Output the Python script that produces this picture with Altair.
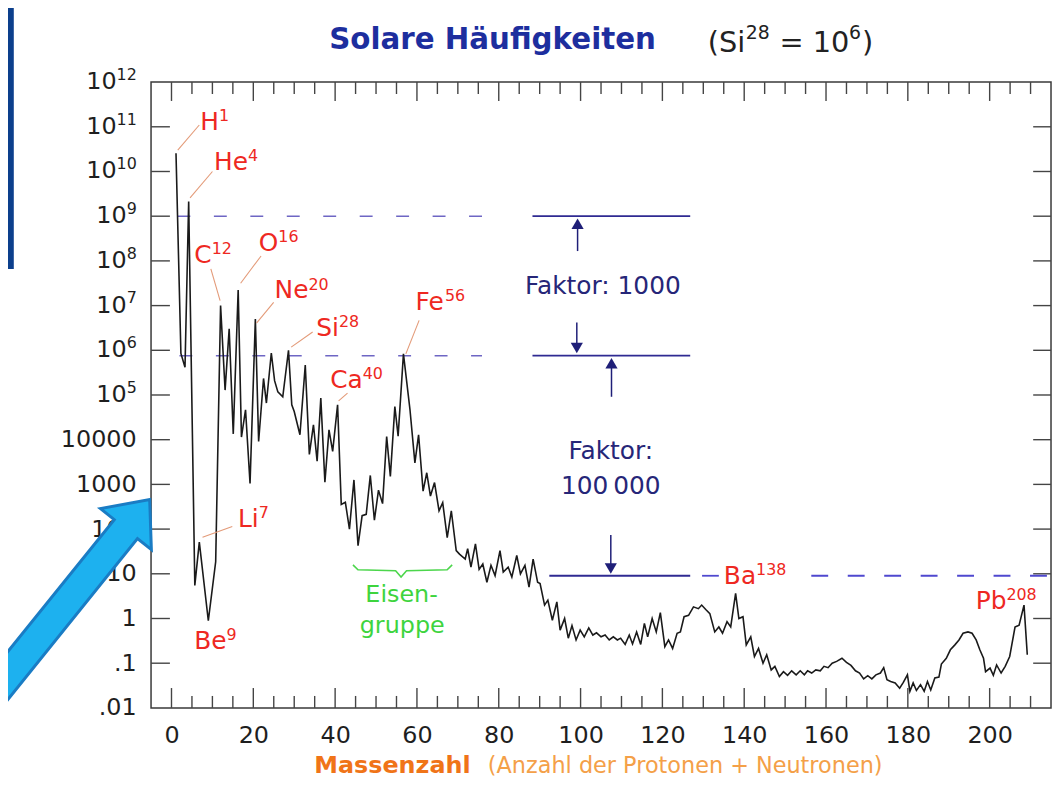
import altair as alt
import pandas as pd

# ---------------- curve: mass number / log10(abundance), Si28 = 10^6 ----------------
mass = [1.1, 2.3, 3.3, 4.2, 5.7, 6.8, 9.0, 10.8, 12.0, 13.1,
        14.1, 15.1, 16.3, 17.1, 18.1, 19.2, 20.5, 21.3, 22.5, 23.2,
        24.4, 25.2, 26.0, 27.2, 28.6, 29.4, 30.0, 31.4, 32.7, 33.7,
        34.7, 35.6, 36.5, 37.5, 38.5, 39.4, 40.6, 41.5, 42.5, 43.5,
        44.6, 45.6, 46.6, 47.6, 48.6, 49.6, 50.6, 51.6, 52.6, 53.5,
        54.6, 55.4, 56.7, 58.3, 59.5, 60.4, 61.5, 62.4, 63.3, 64.3,
        65.4, 66.3, 67.4, 68.4, 69.6, 70.4, 71.8, 72.4, 73.2, 74.3,
        75.2, 76.1, 77.1, 78.1, 79.1, 80.3, 81.1, 82.3, 83.2, 84.4,
        85.3, 86.4, 87.4, 88.4, 89.5, 90.1, 91.2, 92.0, 93.1, 94.2,
        95.0, 96.1, 97.0, 97.9, 98.9, 99.9, 100.9, 102.0, 103.0, 103.9,
        105.0, 106.0, 107.0, 108.0, 109.0, 109.8, 110.9, 111.9, 112.7, 113.7,
        114.7, 115.6, 116.4, 117.5, 118.5, 119.5, 120.6, 121.5, 122.5, 123.6,
        124.4, 125.3, 126.4, 127.6, 128.8, 129.6, 130.6, 131.6, 132.8, 133.8,
        134.7, 135.8, 136.7, 137.9, 138.7, 139.7, 140.5, 141.6, 142.5, 143.5,
        144.6, 145.5, 146.6, 147.5, 148.6, 149.6, 150.6, 151.6, 152.7, 153.7,
        154.7, 155.5, 156.5, 157.5, 158.6, 159.5, 160.5, 161.5, 162.6, 163.9,
        165.0, 166.1, 167.2, 168.2, 169.2, 170.2, 171.2, 172.2, 173.3, 174.1,
        174.9, 175.8, 176.9, 178.0, 178.9, 179.9, 180.5, 181.3, 182.1, 183.1,
        184.0, 184.8, 185.6, 186.6, 187.6, 188.2, 189.4, 190.4, 191.5, 192.5,
        193.5, 194.7, 195.7, 196.7, 197.6, 198.5, 199.0, 200.1, 200.9, 201.7,
        202.8, 203.8, 204.9, 206.2, 207.2, 208.4, 209.2]
log_abund = [10.41, 5.93, 5.62, 9.33, 0.74, 1.71, -0.05, 1.27, 7.0, 5.11,
             6.48, 4.13, 7.35, 4.06, 4.67, 3.02, 6.70, 3.96, 5.37, 4.82,
             5.94, 5.32, 5.07, 4.96, 6.0, 4.78, 4.63, 4.11, 5.67, 3.67,
             4.33, 3.52, 4.93, 3.05, 4.22, 3.74, 4.78, 2.55, 2.6, 2.0,
             3.1, 1.63, 2.3, 2.33, 3.2, 2.2, 2.87, 2.57, 4.07, 3.18,
             4.74, 4.08, 5.92, 4.67, 3.48, 4.11, 2.85, 3.26, 2.74, 3.04,
             2.41, 2.59, 1.81, 2.41, 1.52, 1.44, 1.33, 1.56, 1.15, 1.67,
             1.10, 1.22, 0.81, 1.19, 0.96, 1.52, 1.04, 1.15, 0.93, 1.41,
             1.0, 1.19, 0.70, 1.33, 0.81, 0.78, 0.30, 0.41, -0.04, 0.37,
             -0.26, 0.0, -0.44, -0.16, -0.48, -0.26, -0.41, -0.21, -0.37, -0.32,
             -0.41, -0.37, -0.48, -0.41, -0.48, -0.44, -0.58, -0.37, -0.57, -0.30,
             -0.58, -0.11, -0.41, 0.0, -0.30, 0.13, -0.63, -0.48, -0.67, -0.33,
             -0.30, 0.04, 0.07, 0.26, 0.22, 0.30, 0.2, 0.11, -0.30, -0.19,
             -0.33, -0.07, -0.19, 0.56, 0.0, 0.04, -0.59, -0.41, -0.85, -0.67,
             -1.0, -0.81, -1.15, -1.07, -1.30, -1.19, -1.27, -1.17, -1.26, -1.17,
             -1.26, -1.17, -1.22, -1.15, -1.17, -1.07, -1.1, -1.0, -0.96, -0.89,
             -0.98, -1.05, -1.17, -1.22, -1.35, -1.28, -1.35, -1.26, -1.22, -1.1,
             -1.37, -1.41, -1.44, -1.56, -1.43, -1.26, -1.63, -1.44, -1.61, -1.48,
             -1.63, -1.41, -1.6, -1.33, -1.31, -1.02, -0.89, -0.70, -0.59, -0.48,
             -0.33, -0.30, -0.33, -0.48, -0.70, -0.89, -1.19, -1.11, -1.27, -1.04,
             -1.22, -1.07, -0.85, -0.19, -0.15, 0.30, -0.81]

# ---------------- axes ----------------
x_tick_values = [0, 20, 40, 60, 80, 100, 120, 140, 160, 180, 200]
y_plain_labels = [".01", ".1", "1", "10", "100", "1000", "10000"]
y_plain_exponents = [-2, -1, 0, 1, 2, 3, 4]
# power labels "10^n" drawn as base + superscript
y_pow_exponents = [5, 6, 7, 8, 9, 10, 11, 12]
y_pow_sup = ["5", "6", "7", "8", "9", "10", "11", "12"]
y_pow_base_a = [-10.96, -10.96, -10.96, -10.96, -10.96, -13.43, -13.43, -13.43]
y_pow_sup_a = -8.48

# ---------------- element labels (data units: mass, log10) ----------------
elem_base = ["H", "He", "C", "O", "Ne", "Si", "Ca", "Fe", "Li", "Be", "Ba", "Pb"]
elem_sup = ["1", "4", "12", "16", "20", "28", "40", "56", "7", "9", "138", "208"]
elem_a = [7.03, 10.42, 5.58, 21.33, 25.21, 35.39, 38.79, 59.64, 16.24, 5.58, 135.03, 196.6]
elem_l = [10.93, 10.04, 7.96, 8.22, 7.16, 6.33, 5.16, 6.91, 2.04, -0.69, 0.78, 0.22]
elem_sup_a = [11.59, 18.72, 9.82, 26.11, 33.48, 40.92, 46.74, 66.86, 21.31, 13.45, 142.91, 204.1]
elem_sup_l = [11.13, 10.24, 8.16, 8.42, 7.36, 6.53, 5.36, 7.11, 2.24, -0.49, 0.98, 0.42]

lead_a1 = [1.53, 4.53, 9.62, 16.90, 20.78, 29.26, 40.85, 57.29, 7.59]
lead_l1 = [10.48, 9.41, 7.82, 7.50, 6.61, 6.07, 4.87, 5.92, 1.82]
lead_a2 = [6.79, 10.01, 11.88, 21.89, 24.97, 34.50, 43.03, 60.53, 14.86]
lead_l2 = [11.04, 10.00, 7.11, 8.11, 7.07, 6.41, 5.04, 6.67, 2.06]

# reference levels
solid_a1 = [88.24, 88.24, 92.36]
solid_a2 = [126.8, 126.8, 126.8]
solid_l = [9.0, 5.88, 0.956]
dash_top_a1 = [1.45, 1.94]
dash_top_a2 = [75.9, 75.9]
dash_top_l = [9.0, 5.88]
dash_bot_a1 = [129.7, 156.4]
dash_bot_a2 = [133.8, 215.0]
dash_bot_l = [0.956, 0.956]

# "Faktor" arrows
arrow_a = [99.27, 99.08, 107.56, 107.39]
arrow_tail_l = [8.22, 6.62, 4.96, 1.87]
arrow_head_l = [8.83, 6.05, 5.71, 1.12]
arrow_dir = ["triangle-up", "triangle-down", "triangle-up", "triangle-down"]
faktor_text = ["Faktor: 1000", "Faktor:", "100\u2009000"]
faktor_a = [105.45, 107.39, 107.39]
faktor_l = [7.27, 3.56, 2.78]

# Eisengruppe
eisen_text = ["Eisen-", "gruppe"]
eisen_a = [56.24, 56.4]
eisen_l = [0.37, -0.33]
brace_a = [44.36, 45.58, 54.79, 56.12, 57.45, 67.39, 68.61]
brace_l = [1.20, 1.09, 1.07, 0.93, 1.07, 1.09, 1.20]

# header
title_a, title_l = 38.55, 12.73
paren_text = ["(Si", "28", "= 10", "6", ")"]
paren_a = [131.1, 140.4, 148.6, 165.6, 168.8]
paren_l = [12.67, 12.96, 12.67, 12.96, 12.67]
paren_fs = [29, 19, 29, 19, 29]

# x title
xt_a = [34.91, 77.33]
xt_l = [-3.46, -3.46]

# slide overlay arrow (polygon)
ovl_a = [-46.96, -13.99, -17.38, -5.33, -4.92, -8.32, -41.28, -46.96]
ovl_l = [-1.53, 2.21, 2.46, 2.66, 1.54, 1.79, -1.96, -1.53]

FONT = "DejaVu Sans"
RED = "#ee2822"
INK = "#1e1e1e"

xscale = alt.Scale(domain=[-5, 215], nice=False, zero=False)
yscale = alt.Scale(type="log", domain=[0.01, 1e12], nice=False)
labels_js = "[" + ",".join("'%s'" % s for s in y_plain_labels) + "]"
xaxis = alt.Axis(values=x_tick_values, title=None, domain=False, ticks=False, grid=False,
                 labelFont=FONT, labelFontSize=24, labelColor=INK, labelPadding=16,
                 labelFlush=False, labelOverlap=False, format="d")
yaxis = alt.Axis(values=[10.0 ** e for e in y_plain_exponents], title=None, domain=False,
                 ticks=False, grid=False, labelFont=FONT, labelFontSize=24, labelColor=INK,
                 labelPadding=15, labelFlush=False, labelOverlap=False,
                 labelExpr=labels_js + "[round(log(datum.value)/LN10)+2]")


def X():
    return alt.X("A:Q", scale=xscale, axis=xaxis)


def Y():
    return alt.Y("v:Q", scale=yscale, axis=yaxis)


def pw(l):
    return [10.0 ** x for x in l]


curve = pd.DataFrame({"A": mass, "v": pw(log_abund), "i": range(len(mass))})

tick_rows = []
for e in range(-1, 12):
    tick_rows.append({"A": -5, "A2": -0.39, "v": 10.0 ** e, "v2": 10.0 ** e})
    tick_rows.append({"A": 210.64, "A2": 215, "v": 10.0 ** e, "v2": 10.0 ** e})
for a in range(0, 215, 5):
    major = a % 20 == 0
    tick_rows.append({"A": a, "A2": a, "v": 0.01, "v2": 10.0 ** (-1.556 if major else -1.733)})
    tick_rows.append({"A": a, "A2": a, "v": 1e12, "v2": 10.0 ** (11.578 if major else 11.733)})
ticks = pd.DataFrame(tick_rows)

ypow_base = pd.DataFrame({"A": y_pow_base_a, "v": pw(y_pow_exponents), "t": ["10"] * len(y_pow_exponents)})
ypow_sup = pd.DataFrame({"A": [y_pow_sup_a] * len(y_pow_exponents),
                         "v": pw([e + 0.05 for e in y_pow_exponents]), "t": y_pow_sup})

base_lab = pd.DataFrame({"A": elem_a, "v": pw(elem_l), "t": elem_base})
sup_lab = pd.DataFrame({"A": elem_sup_a, "v": pw(elem_sup_l), "t": elem_sup})
leaders = pd.DataFrame({"A": lead_a1, "A2": lead_a2, "v": pw(lead_l1), "v2": pw(lead_l2)})
solid = pd.DataFrame({"A": solid_a1, "A2": solid_a2, "v": pw(solid_l), "v2": pw(solid_l)})
dtop = pd.DataFrame({"A": dash_top_a1, "A2": dash_top_a2, "v": pw(dash_top_l), "v2": pw(dash_top_l)})
dbot = pd.DataFrame({"A": dash_bot_a1, "A2": dash_bot_a2, "v": pw(dash_bot_l), "v2": pw(dash_bot_l)})
shafts = pd.DataFrame({"A": arrow_a, "A2": arrow_a, "v": pw(arrow_tail_l), "v2": pw(arrow_head_l)})
heads = pd.DataFrame({"A": arrow_a, "v": pw(arrow_head_l), "shape": arrow_dir})
faktor = pd.DataFrame({"A": faktor_a, "v": pw(faktor_l), "t": faktor_text})
eisen = pd.DataFrame({"A": eisen_a, "v": pw(eisen_l), "t": eisen_text})
brace = pd.DataFrame({"A": brace_a, "v": pw(brace_l), "i": range(len(brace_a))})
title_df = pd.DataFrame({"A": [title_a], "v": [10.0 ** title_l], "t": ["Solare Häufigkeiten"]})
paren_df = pd.DataFrame({"A": paren_a, "v": pw(paren_l), "t": paren_text, "fs": paren_fs})
xt1 = pd.DataFrame({"A": [xt_a[0]], "v": [10.0 ** xt_l[0]], "t": ["Massenzahl"]})
xt2 = pd.DataFrame({"A": [xt_a[1]], "v": [10.0 ** xt_l[1]], "t": ["(Anzahl der Protonen + Neutronen)"]})
ovl = pd.DataFrame({"A": ovl_a, "v": pw(ovl_l), "i": range(len(ovl_a))})
panel = pd.DataFrame({"A": [-41.5], "A2": [-38.55], "v": [10.0 ** 7.82], "v2": [10.0 ** 14.0]})


def rules(df, **kw):
    return alt.Chart(df).mark_rule(clip=False, **kw).encode(
        x=X(), x2="A2:Q", y=Y(), y2="v2:Q")


def texts(df, **kw):
    return alt.Chart(df).mark_text(clip=False, font=FONT, **kw).encode(
        x=X(), y=Y(), text="t:N")


layers = [
    rules(ticks, color="#444444", strokeWidth=1.4),
    texts(ypow_base, align="right", baseline="middle", fontSize=24, color=INK),
    texts(ypow_sup, align="right", baseline="alphabetic", fontSize=16, color=INK),
    rules(dtop, color="#6e66c4", strokeWidth=1.5, strokeDash=[13, 23.7]),
    rules(dbot, color="#4f48cf", strokeWidth=1.8, strokeDash=[17, 19.7]),
    rules(solid, color="#2f2a92", strokeWidth=1.8),
    alt.Chart(curve).mark_line(color="#1a1a1a", strokeWidth=1.6).encode(
        x=X(), y=Y(), order="i:Q"),
    rules(leaders, color="#e39a78", strokeWidth=1.1),
    texts(base_lab, align="left", baseline="alphabetic", fontSize=25, color=RED),
    texts(sup_lab, align="left", baseline="alphabetic", fontSize=16, color=RED),
    rules(shafts, color="#1f1f78", strokeWidth=1.5),
    alt.Chart(heads).mark_point(filled=True, size=150, color="#1f1f78", opacity=1, clip=False).encode(
        x=X(), y=Y(), shape=alt.Shape("shape:N", scale=None)),
    texts(faktor, align="center", baseline="alphabetic", fontSize=25, color="#262678"),
    texts(eisen, align="center", baseline="alphabetic", fontSize=24, color="#3ed43e"),
    alt.Chart(brace).mark_line(color="#4cd64c", strokeWidth=1.6, clip=False).encode(
        x=X(), y=Y(), order="i:Q"),
    texts(title_df, align="left", baseline="alphabetic", fontSize=29.5, fontWeight="bold",
          color="#1d2e9e"),
    alt.Chart(paren_df).mark_text(clip=False, font=FONT, align="left", baseline="alphabetic",
                                  color="#222222").encode(
        x=X(), y=Y(), text="t:N", size=alt.Size("fs:Q", scale=None)),
    texts(xt1, align="left", baseline="alphabetic", fontSize=24, fontWeight="bold",
          color="#f07418"),
    texts(xt2, align="left", baseline="alphabetic", fontSize=22.5, color="#f4a048"),
    alt.Chart(panel).mark_rect(clip=False, color="#0c3f8c").encode(
        x=X(), x2="A2:Q", y=Y(), y2="v2:Q"),
    alt.Chart(ovl).mark_line(clip=False, fill="#1db1ef", stroke="#1a7cc4", strokeWidth=3).encode(
        x=X(), y=Y(), order="i:Q"),
]

chart = alt.layer(*layers).properties(
    width=906, height=630,
    autosize=alt.AutoSizeParams(type="none"),
    padding={"left": 144, "top": 72, "right": 2, "bottom": 70},
    background="white",
).configure_view(stroke="#3a3a3a", strokeWidth=1.5)

chart.save("out.html", embed_options={"renderer": "svg", "actions": False})
